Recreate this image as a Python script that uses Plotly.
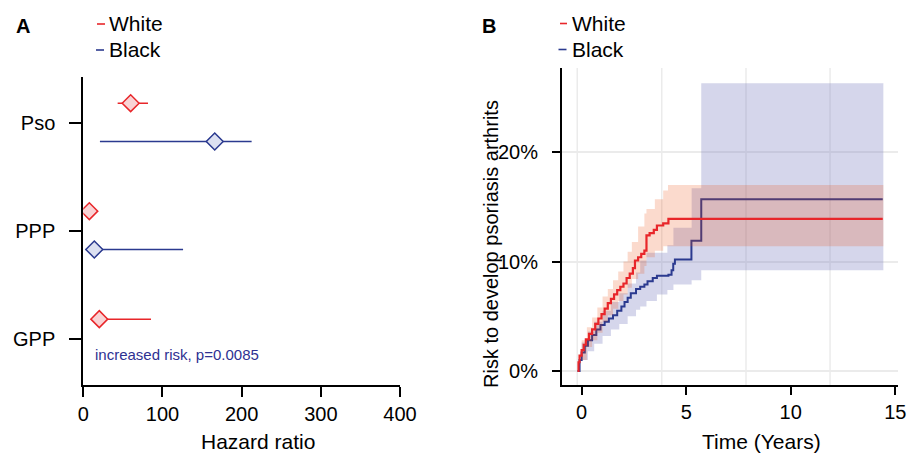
import plotly.graph_objects as go

# ---------------- Panel A data (hazard ratios) ----------------
cond_labels = ["GPP", "PPP", "Pso"]
cond_pos = [0, 1, 2]
white_hr = [20.2, 7.6, 59.8]
white_lo = [9.5, 2.0, 43.4]
white_hi = [85.5, 17.0, 81.7]
black_hr = [None, 13.9, 166.0]
black_lo = [None, 3.0, 21.0]
black_hi = [None, 126.0, 212.6]
hr_ticks = [0, 100, 200, 300, 400]

# ---------------- Panel B data (cumulative risk, %) ----------------
white_t = [-0.2, -0.15, -0.1, 0.0, 0.1, 0.2, 0.35, 0.5, 0.65, 0.8, 0.95, 1.1, 1.25, 1.4, 1.55,
           1.7, 1.85, 2.0, 2.15, 2.3, 2.45, 2.55, 2.7, 2.85, 3.0, 3.1, 3.25, 3.45, 3.6, 3.9, 4.15, 14.4]
white_r = [0, 0.8, 1.4, 1.9, 2.4, 2.9, 3.4, 3.8, 4.3, 4.8, 5.2, 5.7, 6.2, 6.6, 7.0,
           7.4, 7.7, 8.0, 8.5, 8.9, 9.4, 10.1, 10.4, 10.7, 11.0, 12.4, 12.6, 12.9, 13.3, 13.5, 13.9, 13.9]

black_t = [-0.2, -0.1, 0.0, 0.15, 0.3, 0.5, 0.7, 0.9, 1.1, 1.3, 1.5, 1.7, 1.9, 2.05, 2.2, 2.35,
           2.6, 2.8, 3.0, 3.15, 3.4, 3.6, 4.15, 4.3, 4.38, 4.46, 5.25, 5.72, 14.4]
black_r = [0, 1.0, 1.7, 2.3, 2.8, 3.3, 3.8, 4.2, 4.5, 4.8, 5.1, 5.5, 5.9, 6.3, 6.7, 7.1,
           7.5, 7.7, 7.9, 8.2, 8.5, 8.7, 8.8, 9.2, 9.8, 10.2, 11.9, 15.7, 15.7]

white_ci_t = [-0.2, 0.0, 0.25, 0.5, 0.75, 1.0, 1.25, 1.5, 1.75, 2.0, 2.2, 2.4, 2.7, 3.0, 3.1,
              3.5, 3.9, 4.13, 14.43]
white_ci_hi = [0, 2.8, 4.0, 4.9, 5.8, 6.8, 7.5, 8.3, 9.1, 10.0, 10.9, 11.8, 13.2, 14.4, 14.8,
               15.7, 16.5, 17.0, 17.0]
white_ci_lo = [0, 1.0, 2.2, 2.8, 3.5, 4.5, 5.1, 5.7, 6.4, 7.0, 7.6, 8.4, 8.9, 9.6, 10.4,
               11.0, 11.4, 11.4, 11.4]

black_ci_t = [-0.2, 0.0, 0.3, 0.6, 1.0, 1.4, 1.8, 2.2, 2.6, 2.8, 3.1, 3.6, 4.1, 4.39, 5.26,
              5.72, 14.43]
black_ci_hi = [0, 2.6, 3.6, 4.5, 5.5, 6.3, 7.1, 8.0, 9.0, 10.1, 10.8, 10.8, 11.5, 13.1, 16.7,
               26.3, 26.3]
black_ci_lo = [0, 1.0, 1.8, 2.5, 3.2, 3.8, 4.3, 5.0, 5.6, 5.9, 6.4, 7.0, 7.4, 7.9, 8.3,
               9.2, 9.2]

time_ticks = [0, 5, 10, 15]
risk_ticks = [0, 10, 20]
risk_labels = ["0%", "10%", "20%"]
grid_x = [-0.21, 3.83, 7.86, 11.88]

series_names = ["White", "Black"]
RED = "#E8262A"
BLUE = "#2B3A8F"
FONT = "Liberation Sans, Arial, sans-serif"

W, H = 911, 453


def px(x):
    return x / W


def py(y):
    return 1 - y / H


fig = go.Figure()

# ---------------- Panel A ----------------
off_white, off_black = 0.185, -0.17
fig.add_trace(go.Scatter(
    x=white_hr, y=[p + off_white for p in cond_pos], mode="markers",
    marker=dict(symbol="diamond", size=13, color="#F9D3D5", line=dict(color=RED, width=1.5)),
    error_x=dict(type="data", symmetric=False,
                 array=[h - m for h, m in zip(white_hi, white_hr)],
                 arrayminus=[m - l for l, m in zip(white_lo, white_hr)],
                 color=RED, thickness=1.5, width=0),
    xaxis="x", yaxis="y", showlegend=False, name=series_names[0]))

bx = [v for v in black_hr if v is not None]
by = [p + off_black for p, v in zip(cond_pos, black_hr) if v is not None]
bhi = [h - m for h, m in zip(black_hi, black_hr) if m is not None]
blo = [m - l for l, m in zip(black_lo, black_hr) if m is not None]
fig.add_trace(go.Scatter(
    x=bx, y=by, mode="markers",
    marker=dict(symbol="diamond", size=13, color="#DCE0F1", line=dict(color=BLUE, width=1.5)),
    error_x=dict(type="data", symmetric=False, array=bhi, arrayminus=blo,
                 color=BLUE, thickness=1.5, width=0),
    xaxis="x", yaxis="y", showlegend=False, name=series_names[1]))

# ---------------- Panel B ----------------
def ribbon(t, lo, hi, fill):
    fig.add_trace(go.Scatter(x=t, y=lo, mode="lines", line=dict(width=0, shape="hv"),
                             xaxis="x2", yaxis="y2", showlegend=False, hoverinfo="skip"))
    fig.add_trace(go.Scatter(x=t, y=hi, mode="lines", line=dict(width=0, shape="hv"),
                             fill="tonexty", fillcolor=fill,
                             xaxis="x2", yaxis="y2", showlegend=False, hoverinfo="skip"))


ribbon(black_ci_t, black_ci_lo, black_ci_hi, "rgba(115,118,188,0.30)")
fig.add_trace(go.Scatter(x=black_t, y=black_r, mode="lines", line=dict(color=BLUE, width=2, shape="hv"),
                         xaxis="x2", yaxis="y2", showlegend=False, name=series_names[1]))
ribbon(white_ci_t, white_ci_lo, white_ci_hi, "rgba(235,70,5,0.20)")
fig.add_trace(go.Scatter(x=white_t, y=white_r, mode="lines", line=dict(color=RED, width=2.2, shape="hv"),
                         xaxis="x2", yaxis="y2", showlegend=False, name=series_names[0]))

# vertical grid lines for panel B
shapes = []
for gx in grid_x:
    shapes.append(dict(type="line", xref="x2", yref="paper", x0=gx, x1=gx,
                       y0=py(385), y1=py(68), line=dict(color="#EBEBEB", width=1.5), layer="below"))

# legend marks (short dashes)
for (x0, x1, y, c) in [(97, 105, 24, RED), (96, 104, 50, BLUE), (560, 567, 23.5, RED), (558.5, 566.5, 49.5, BLUE)]:
    shapes.append(dict(type="line", xref="paper", yref="paper", x0=px(x0), x1=px(x1),
                       y0=py(y), y1=py(y), line=dict(color=c, width=1.6)))

annotations = []


def txt(x, y, s, size=20, color="black", xanchor="left", bold=False, angle=0):
    annotations.append(dict(xref="paper", yref="paper", x=px(x), y=py(y), text=("<b>%s</b>" % s if bold else s),
                            showarrow=False, xanchor=xanchor, yanchor="middle", textangle=angle,
                            font=dict(family=FONT, size=size, color=color)))


txt(14, 26.5, "A", size=20, bold=True)
txt(480, 26.5, "B", size=20, bold=True)
txt(107, 23.5, series_names[0], size=21)
txt(107, 49.5, series_names[1], size=21)
txt(570, 23.5, series_names[0], size=21)
txt(570, 49.5, series_names[1], size=21)
txt(93, 354, "increased risk, p=0.0085", size=15, color="#2E3192")
txt(257.5, 441, "Hazard ratio", size=21, xanchor="center")
txt(761, 441, "Time (Years)", size=21, xanchor="center")
txt(491, 244, "Risk to develop psoriasis arthrits", xanchor="center", angle=-90)

axis_common = dict(showline=True, linecolor="black", linewidth=2, ticks="outside", tickwidth=2,
                   tickcolor="black", zeroline=False, showgrid=False, automargin=False,
                   tickfont=dict(family=FONT, size=20, color="black"))

fig.update_layout(
    width=W, height=H, autosize=False, margin=dict(l=0, r=0, t=0, b=0, pad=0),
    paper_bgcolor="white", plot_bgcolor="rgba(0,0,0,0)",
    font=dict(family=FONT, color="black"),
    xaxis=dict(domain=[px(83.3), px(400)], range=[0, 400], tickvals=hr_ticks, ticklen=10,
               anchor="y", **axis_common),
    yaxis=dict(domain=[py(385), py(76.7)], range=[-0.425, 2.43], tickvals=cond_pos, ticktext=cond_labels,
               ticklen=12, ticklabelstandoff=10, anchor="x", **axis_common),
    xaxis2=dict(domain=[px(562), px(898)], range=[-0.94, 15.13], tickvals=time_ticks, ticklen=8,
                anchor="y2", **axis_common),
    yaxis2=dict(domain=[py(385), py(68)], range=[-1.28, 27.7], tickvals=risk_ticks, ticktext=risk_labels,
                ticklen=8, ticklabelstandoff=10, anchor="x2",
                **{**axis_common, "showgrid": True}, gridcolor="#EBEBEB", gridwidth=1.5),
    shapes=shapes, annotations=annotations, showlegend=False,
)

fig.write_html("out.html",
               config={"responsive": False, "displayModeBar": False},
               post_script="document.body.style.margin='0';document.body.style.overflow='hidden';")
